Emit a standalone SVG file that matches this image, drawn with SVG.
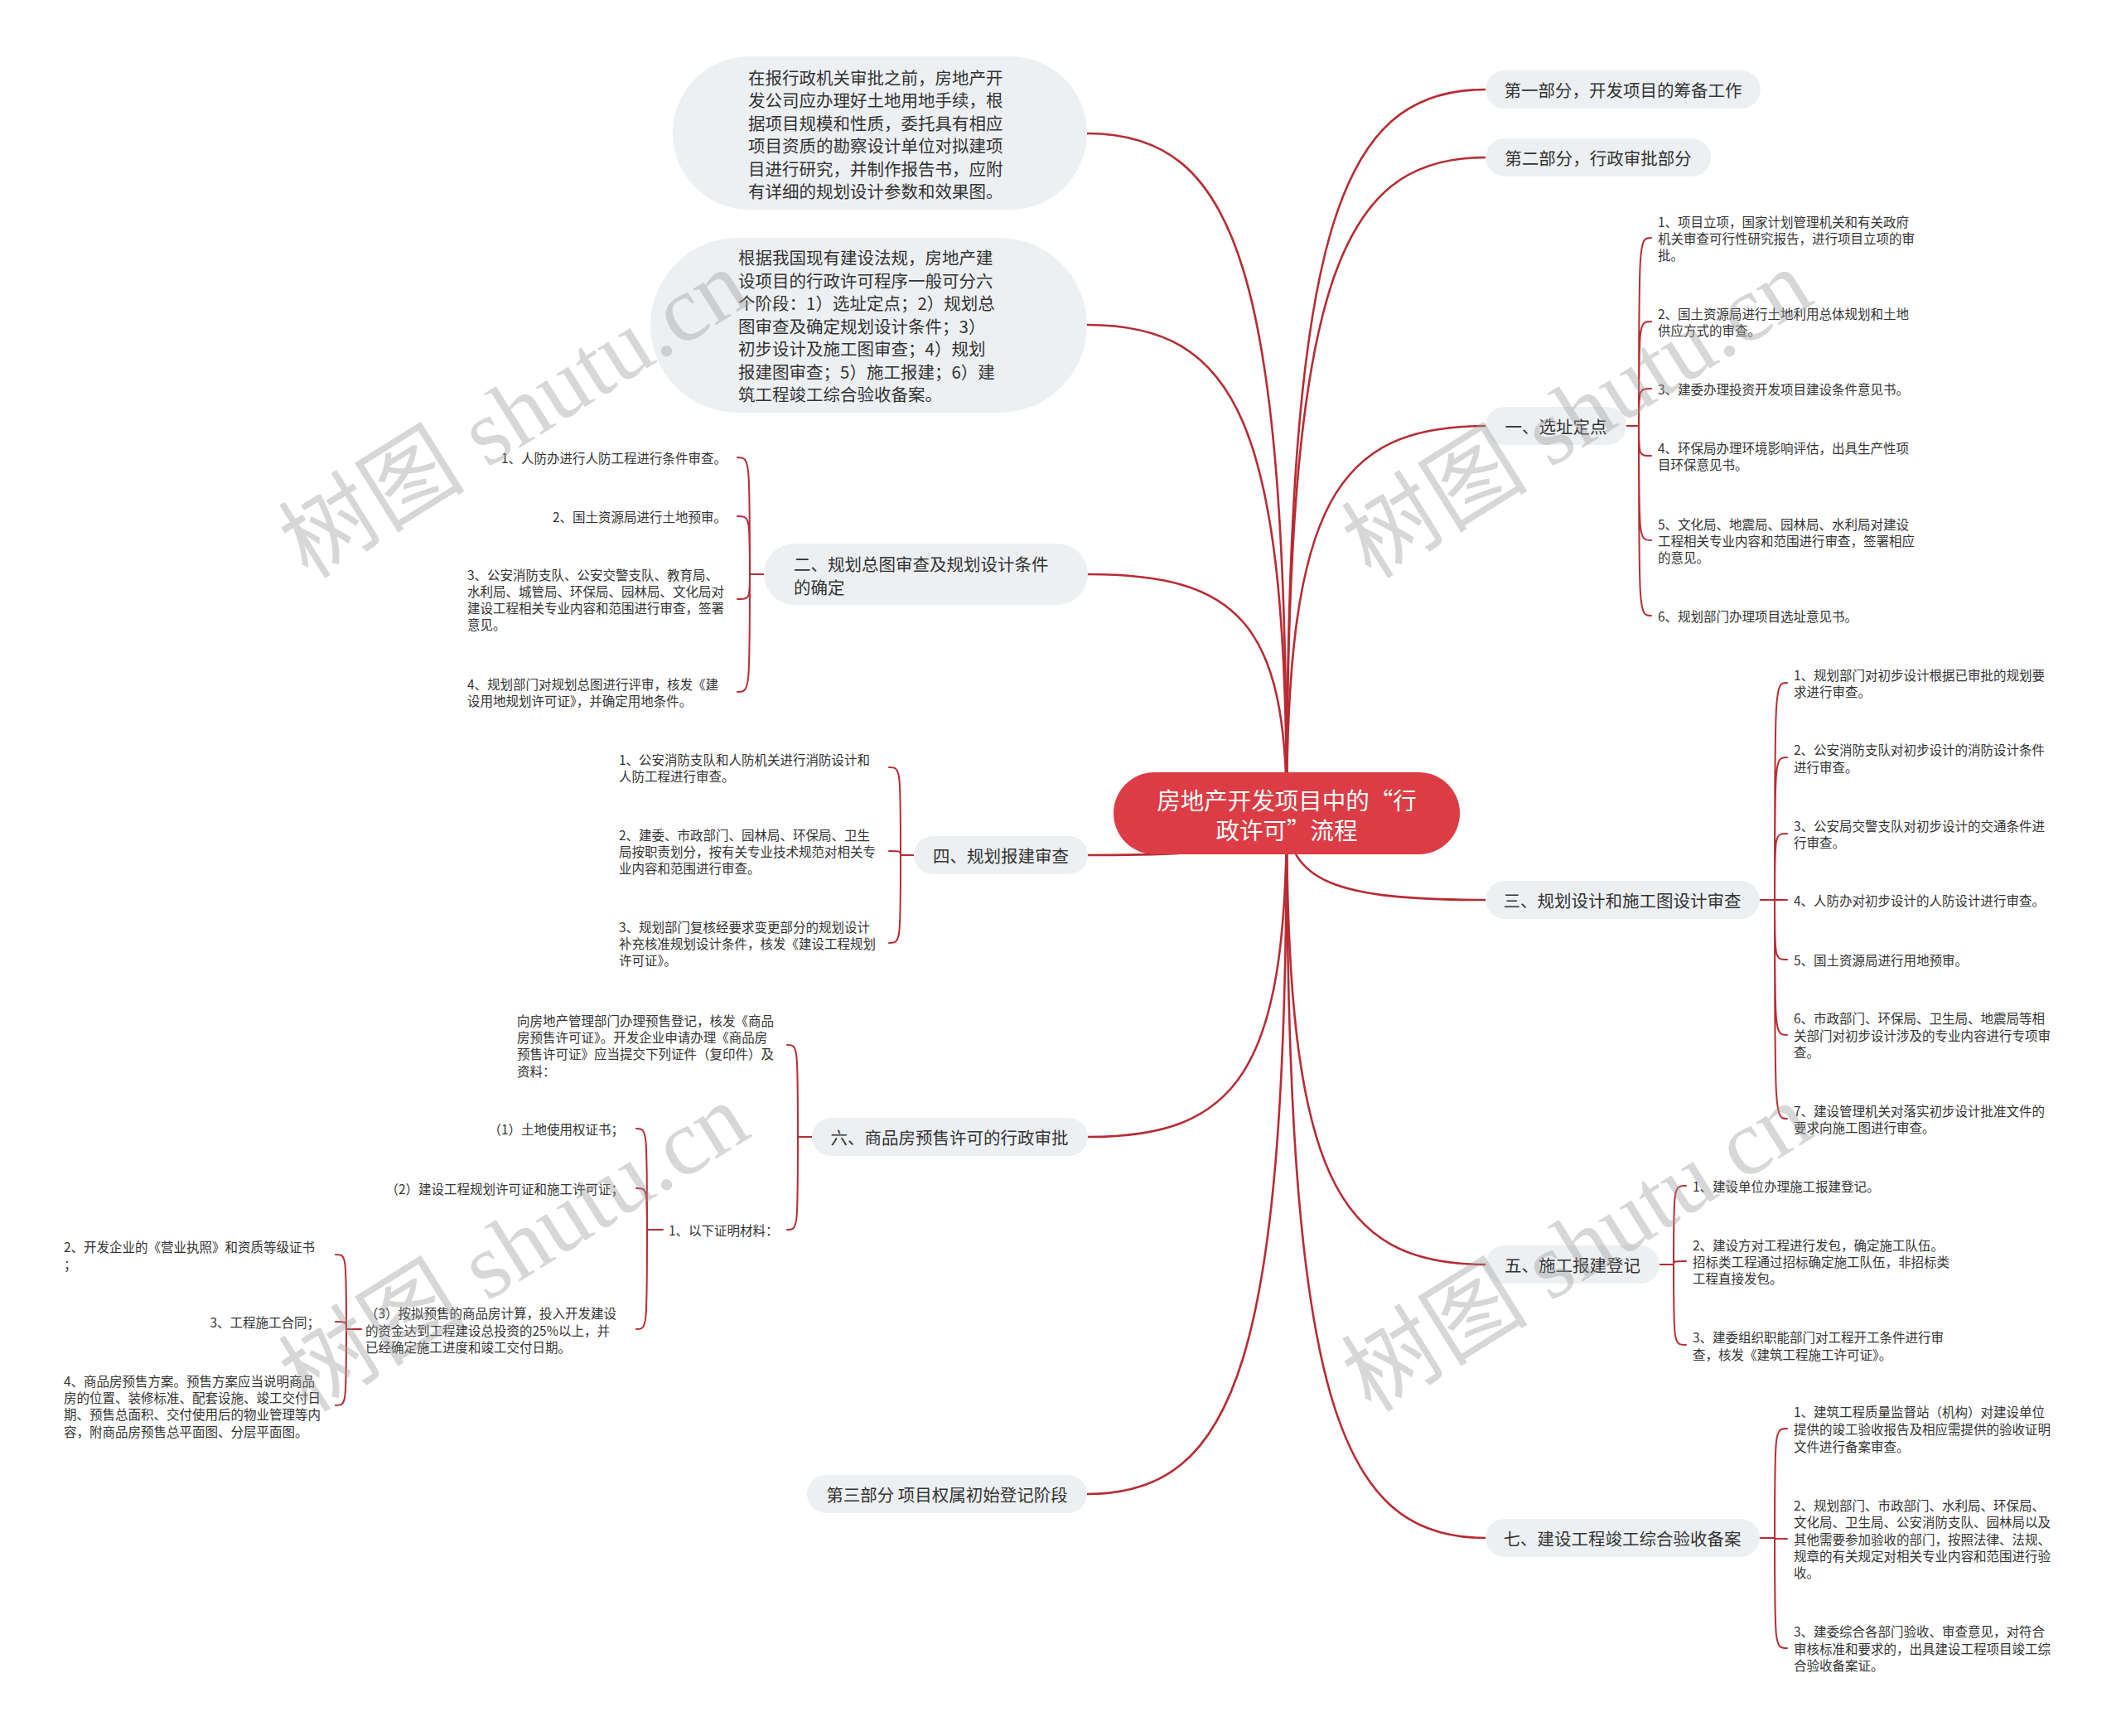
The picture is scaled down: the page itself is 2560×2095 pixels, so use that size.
<svg xmlns="http://www.w3.org/2000/svg" width="2560" height="2095" viewBox="0 0 2560 2095">
<style>
.bg{fill:#ffffff}
.node{fill:#edf0f3}
.root{fill:#dc3c45}
.t{font-family:"Noto Sans CJK SC","Noto Sans",sans-serif;fill:#333333;dominant-baseline:central}
.rt{font-family:"Noto Sans CJK SC","Noto Sans",sans-serif;fill:#ffffff;font-size:28.5px;text-anchor:middle;dominant-baseline:central}
.n{font-size:20.5px}
.c{font-size:15.5px}
.m{text-anchor:middle}
.e{text-anchor:end}
.link{fill:none;stroke:#b92b33;stroke-width:2.6;stroke-linecap:round}
.sub{fill:none;stroke:#b92b33;stroke-width:2;stroke-linecap:round}
.wm{font-family:"Liberation Serif","Noto Sans CJK SC",serif;font-size:113px;fill:#9a9a9a;fill-opacity:0.4}
</style>
<rect class="bg" width="2560" height="2095"/>
<g id="connectors">
 <path class="link" d="M1553,981 C1553,283 1613,108 1793,108"/>
 <path class="link" d="M1553,981 C1553,348 1613,190 1793,190"/>
 <path class="link" d="M1553,981 C1553,607 1613,514 1793,514"/>
 <path class="link" d="M1553,981 C1553,1065 1613,1086 1793,1086"/>
 <path class="link" d="M1553,981 C1553,1417 1613,1526 1793,1526"/>
 <path class="link" d="M1553,981 C1553,1681 1613,1856 1793,1856"/>
 <path class="link" d="M1553,981 C1553,325 1493,161 1312,161"/>
 <path class="link" d="M1553,981 C1553,510 1493,392 1312,392"/>
 <path class="link" d="M1553,981 C1553,751 1493,693 1313,693"/>
 <path class="link" d="M1553,981 C1553,1022 1493,1032 1313,1032"/>
 <path class="link" d="M1553,981 C1553,1294 1493,1372 1313,1372"/>
 <path class="link" d="M1553,981 C1553,1639 1493,1803 1312,1803"/>
 <path class="sub" d="M1963,514 H1978 M1978,514 C1978,287 1978,287 1993,287 M1978,514 C1978,388 1978,388 1993,388 M1978,514 C1978,469 1978,469 1993,469 M1978,514 C1978,550 1978,550 1993,550 M1978,514 C1978,652 1978,652 1993,652 M1978,514 C1978,743 1978,743 1993,743"/>
 <path class="sub" d="M2124,1086 H2157 M2142,1086 C2142,824 2142,824 2157,824 M2142,1086 C2142,914 2142,914 2157,914 M2142,1086 C2142,1006 2142,1006 2157,1006 M2142,1086 C2142,1158 2142,1158 2157,1158 M2142,1086 C2142,1249 2142,1249 2157,1249 M2142,1086 C2142,1350 2142,1350 2157,1350"/>
 <path class="sub" d="M2003,1526 H2020 M2020,1526 C2020,1431 2020,1431 2035,1431 M2020,1526 C2020,1522 2020,1522 2035,1522 M2020,1526 C2020,1623 2020,1623 2035,1623"/>
 <path class="sub" d="M2124,1856 H2142 M2142,1856 C2142,1724 2142,1724 2157,1724 M2142,1856 C2142,1857 2142,1857 2157,1857 M2142,1856 C2142,1989 2142,1989 2157,1989"/>
 <path class="sub" d="M922,693 H905 M905,693 C905,552 905,552 890,552 M905,693 C905,623 905,623 890,623 M905,693 C905,723 905,723 890,723 M905,693 C905,835 905,835 890,835"/>
 <path class="sub" d="M1103,1032 H1087 M1087,1032 C1087,926 1087,926 1073,926 M1087,1032 C1087,1027 1087,1027 1073,1027 M1087,1032 C1087,1138 1087,1138 1073,1138"/>
 <path class="sub" d="M980,1372 H963 M963,1372 C963,1261 963,1261 950,1261 M963,1372 C963,1484 963,1484 950,1484"/>
 <path class="sub" d="M800,1484 H781 M781,1484 C781,1362 781,1362 768,1362 M781,1484 C781,1434 781,1434 768,1434 M781,1484 C781,1604 781,1604 768,1604"/>
 <path class="sub" d="M436,1604 H418 M418,1604 C418,1514 418,1514 405,1514 M418,1604 C418,1595 418,1595 405,1595 M418,1604 C418,1696 418,1696 405,1696"/>
</g>

<g id="root">
 <rect class="root" x="1344" y="932" width="418" height="99" rx="49.5"/>
 <text class="rt"><tspan x="1553" y="964">房地产开发项目中的“行</tspan><tspan x="1553" y="1000">政许可”流程</tspan></text>
</g>

<g id="n-part1">
 <rect class="node" x="1793" y="85" width="332" height="46" rx="23"/>
 <text class="t n m" x="1959" y="108">第一部分，开发项目的筹备工作</text>
</g>
<g id="n-part2">
 <rect class="node" x="1793" y="167" width="272" height="46" rx="23"/>
 <text class="t n m" x="1929" y="190">第二部分，行政审批部分</text>
</g>
<g id="n-1">
 <rect class="node" x="1793" y="491" width="170" height="46" rx="23"/>
 <text class="t n m" x="1878" y="514">一、选址定点</text>
</g>
<g id="n-1-children">
 <text class="t c"><tspan x="2001" y="267">1、项目立项，国家计划管理机关和有关政府</tspan><tspan x="2001" y="287">机关审查可行性研究报告，进行项目立项的审</tspan><tspan x="2001" y="307">批。</tspan></text>
 <text class="t c"><tspan x="2001" y="378">2、国土资源局进行土地利用总体规划和土地</tspan><tspan x="2001" y="398">供应方式的审查。</tspan></text>
 <text class="t c" x="2001" y="469">3、建委办理投资开发项目建设条件意见书。</text>
 <text class="t c"><tspan x="2001" y="540">4、环保局办理环境影响评估，出具生产性项</tspan><tspan x="2001" y="560">目环保意见书。</tspan></text>
 <text class="t c"><tspan x="2001" y="632">5、文化局、地震局、园林局、水利局对建设</tspan><tspan x="2001" y="652">工程相关专业内容和范围进行审查，签署相应</tspan><tspan x="2001" y="672">的意见。</tspan></text>
 <text class="t c" x="2001" y="743">6、规划部门办理项目选址意见书。</text>
</g>

<g id="n-3">
 <rect class="node" x="1793" y="1063" width="331" height="46" rx="23"/>
 <text class="t n m" x="1958" y="1086">三、规划设计和施工图设计审查</text>
</g>
<g id="n-3-children">
 <text class="t c"><tspan x="2165" y="814">1、规划部门对初步设计根据已审批的规划要</tspan><tspan x="2165" y="834">求进行审查。</tspan></text>
 <text class="t c"><tspan x="2165" y="904">2、公安消防支队对初步设计的消防设计条件</tspan><tspan x="2165" y="925">进行审查。</tspan></text>
 <text class="t c"><tspan x="2165" y="996">3、公安局交警支队对初步设计的交通条件进</tspan><tspan x="2165" y="1016">行审查。</tspan></text>
 <text class="t c" x="2165" y="1086">4、人防办对初步设计的人防设计进行审查。</text>
 <text class="t c" x="2165" y="1158">5、国土资源局进行用地预审。</text>
 <text class="t c"><tspan x="2165" y="1228">6、市政部门、环保局、卫生局、地震局等相</tspan><tspan x="2165" y="1249">关部门对初步设计涉及的专业内容进行专项审</tspan><tspan x="2165" y="1269">查。</tspan></text>
 <text class="t c"><tspan x="2165" y="1340">7、建设管理机关对落实初步设计批准文件的</tspan><tspan x="2165" y="1360">要求向施工图进行审查。</tspan></text>
</g>

<g id="n-5">
 <rect class="node" x="1793" y="1503" width="210" height="46" rx="23"/>
 <text class="t n m" x="1898" y="1526">五、施工报建登记</text>
</g>
<g id="n-5-children">
 <text class="t c" x="2043" y="1431">1、建设单位办理施工报建登记。</text>
 <text class="t c"><tspan x="2043" y="1502">2、建设方对工程进行发包，确定施工队伍。</tspan><tspan x="2043" y="1522">招标类工程通过招标确定施工队伍，非招标类</tspan><tspan x="2043" y="1542">工程直接发包。</tspan></text>
 <text class="t c"><tspan x="2043" y="1613">3、建委组织职能部门对工程开工条件进行审</tspan><tspan x="2043" y="1634">查，核发《建筑工程施工许可证》。</tspan></text>
</g>

<g id="n-7">
 <rect class="node" x="1793" y="1833" width="331" height="46" rx="23"/>
 <text class="t n m" x="1958" y="1856">七、建设工程竣工综合验收备案</text>
</g>
<g id="n-7-children">
 <text class="t c"><tspan x="2165" y="1703">1、建筑工程质量监督站（机构）对建设单位</tspan><tspan x="2165" y="1724">提供的竣工验收报告及相应需提供的验收证明</tspan><tspan x="2165" y="1745">文件进行备案审查。</tspan></text>
 <text class="t c"><tspan x="2165" y="1816">2、规划部门、市政部门、水利局、环保局、</tspan><tspan x="2165" y="1836">文化局、卫生局、公安消防支队、园林局以及</tspan><tspan x="2165" y="1857">其他需要参加验收的部门，按照法律、法规、</tspan><tspan x="2165" y="1877">规章的有关规定对相关专业内容和范围进行验</tspan><tspan x="2165" y="1897">收。</tspan></text>
 <text class="t c"><tspan x="2165" y="1968">3、建委综合各部门验收、审查意见，对符合</tspan><tspan x="2165" y="1989">审核标准和要求的，出具建设工程项目竣工综</tspan><tspan x="2165" y="2009">合验收备案证。</tspan></text>
</g>

<g id="n-a">
 <rect class="node" x="812" y="68" width="500" height="185" rx="92.5"/>
 <text class="t n"><tspan x="903" y="93">在报行政机关审批之前，房地产开</tspan><tspan x="903" y="120.4">发公司应办理好土地用地手续，根</tspan><tspan x="903" y="147.8">据项目规模和性质，委托具有相应</tspan><tspan x="903" y="175.2">项目资质的勘察设计单位对拟建项</tspan><tspan x="903" y="202.6">目进行研究，并制作报告书，应附</tspan><tspan x="903" y="230">有详细的规划设计参数和效果图。</tspan></text>
</g>
<g id="n-b">
 <rect class="node" x="785" y="287" width="527" height="211" rx="105.5"/>
 <text class="t n"><tspan x="891" y="310">根据我国现有建设法规，房地产建</tspan><tspan x="891" y="337.5">设项目的行政许可程序一般可分六</tspan><tspan x="891" y="365">个阶段：1）选址定点；2）规划总</tspan><tspan x="891" y="392.5">图审查及确定规划设计条件；3）</tspan><tspan x="891" y="420">初步设计及施工图审查；4）规划</tspan><tspan x="891" y="447.5">报建图审查；5）施工报建；6）建</tspan><tspan x="891" y="475">筑工程竣工综合验收备案。</tspan></text>
</g>

<g id="n-2">
 <rect class="node" x="922" y="656" width="391" height="74" rx="37"/>
 <text class="t n"><tspan x="958" y="680">二、规划总图审查及规划设计条件</tspan><tspan x="958" y="708">的确定</tspan></text>
</g>
<g id="n-2-children">
 <text class="t c e" x="877" y="552">1、人防办进行人防工程进行条件审查。</text>
 <text class="t c e" x="877" y="623">2、国土资源局进行土地预审。</text>
 <text class="t c"><tspan x="564" y="693">3、公安消防支队、公安交警支队、教育局、</tspan><tspan x="564" y="713">水利局、城管局、环保局、园林局、文化局对</tspan><tspan x="564" y="733">建设工程相关专业内容和范围进行审查，签署</tspan><tspan x="564" y="753">意见。</tspan></text>
 <text class="t c"><tspan x="564" y="825">4、规划部门对规划总图进行评审，核发《建</tspan><tspan x="564" y="845">设用地规划许可证》，并确定用地条件。</tspan></text>
</g>

<g id="n-4">
 <rect class="node" x="1103" y="1009" width="210" height="46" rx="23"/>
 <text class="t n m" x="1208" y="1032">四、规划报建审查</text>
</g>
<g id="n-4-children">
 <text class="t c"><tspan x="747" y="916">1、公安消防支队和人防机关进行消防设计和</tspan><tspan x="747" y="936">人防工程进行审查。</tspan></text>
 <text class="t c"><tspan x="747" y="1007">2、建委、市政部门、园林局、环保局、卫生</tspan><tspan x="747" y="1027">局按职责划分，按有关专业技术规范对相关专</tspan><tspan x="747" y="1047">业内容和范围进行审查。</tspan></text>
 <text class="t c"><tspan x="747" y="1118">3、规划部门复核经要求变更部分的规划设计</tspan><tspan x="747" y="1138">补充核准规划设计条件，核发《建设工程规划</tspan><tspan x="747" y="1158">许可证》。</tspan></text>
</g>

<g id="n-6">
 <rect class="node" x="980" y="1349" width="333" height="46" rx="23"/>
 <text class="t n m" x="1146" y="1372">六、商品房预售许可的行政审批</text>
</g>
<g id="n-6-children">
 <text class="t c"><tspan x="624" y="1231">向房地产管理部门办理预售登记，核发《商品</tspan><tspan x="624" y="1251">房预售许可证》。开发企业申请办理《商品房</tspan><tspan x="624" y="1271">预售许可证》应当提交下列证件（复印件）及</tspan><tspan x="624" y="1292">资料：</tspan></text>
</g>
<g id="n-6-1">
 <text class="t c" x="807" y="1484">1、以下证明材料：</text>
</g>
<g id="n-6-1-children">
 <text class="t c e" x="753" y="1362">（1）土地使用权证书；</text>
 <text class="t c e" x="753" y="1434">（2）建设工程规划许可证和施工许可证；</text>
</g>
<g id="n-6-1-3">
 <text class="t c"><tspan x="441" y="1584">（3）按拟预售的商品房计算，投入开发建设</tspan><tspan x="441" y="1605">的资金达到工程建设总投资的25%以上，并</tspan><tspan x="441" y="1625">已经确定施工进度和竣工交付日期。</tspan></text>
</g>
<g id="n-6-1-3-children">
 <text class="t c"><tspan x="77" y="1504">2、开发企业的《营业执照》和资质等级证书</tspan><tspan x="77" y="1525">；</tspan></text>
 <text class="t c e" x="386" y="1595">3、工程施工合同；</text>
 <text class="t c"><tspan x="77" y="1666">4、商品房预售方案。预售方案应当说明商品</tspan><tspan x="77" y="1686">房的位置、装修标准、配套设施、竣工交付日</tspan><tspan x="77" y="1706">期、预售总面积、交付使用后的物业管理等内</tspan><tspan x="77" y="1727">容，附商品房预售总平面图、分层平面图。</tspan></text>
</g>

<g id="n-part3">
 <rect class="node" x="974" y="1780" width="338" height="46" rx="23"/>
 <text class="t n m" x="1143" y="1803">第三部分 项目权属初始登记阶段</text>
</g>

<g id="watermarks">
 <text class="wm" transform="translate(372,700) rotate(-32)">树图 shutu.cn</text>
 <text class="wm" transform="translate(1655,700) rotate(-32)">树图 shutu.cn</text>
 <text class="wm" transform="translate(372,1706) rotate(-32)">树图 shutu.cn</text>
 <text class="wm" transform="translate(1655,1706) rotate(-32)">树图 shutu.cn</text>
</g>
</svg>
